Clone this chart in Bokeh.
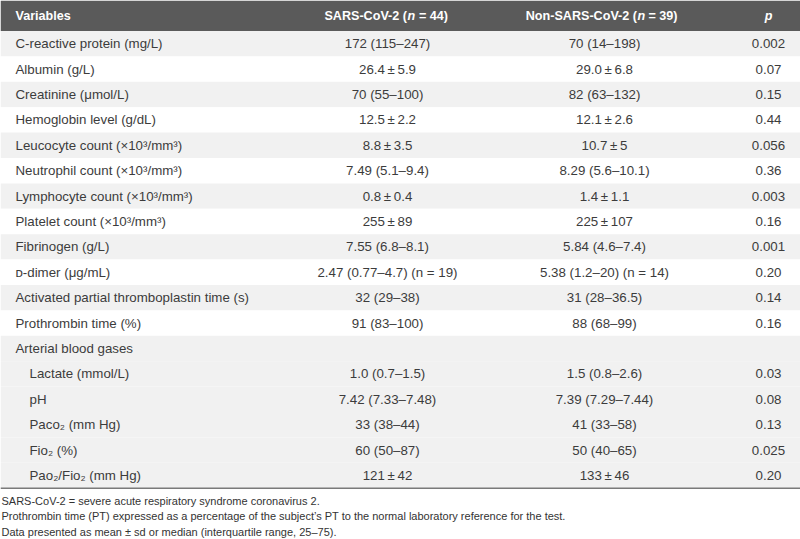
from bokeh.plotting import figure
from bokeh.models import ColumnDataSource, Range1d
from bokeh.core.properties import value
from bokeh.embed import file_html
from bokeh.resources import INLINE

variables = ["C-reactive protein (mg/L)", "Albumin (g/L)", "Creatinine (\u03bcmol/L)",
             "Hemoglobin level (g/dL)", "Leucocyte count (\u00d710\u00b3/mm\u00b3)",
             "Neutrophil count (\u00d710\u00b3/mm\u00b3)", "Lymphocyte count (\u00d710\u00b3/mm\u00b3)",
             "Platelet count (\u00d710\u00b3/mm\u00b3)", "Fibrinogen (g/L)", "\u1d05-dimer (\u03bcg/mL)",
             "Activated partial thromboplastin time (s)", "Prothrombin time (%)",
             "Arterial blood gases", "Lactate (mmol/L)", "pH", "Paco\u2082 (mm Hg)",
             "Fio\u2082 (%)", "Pao\u2082/Fio\u2082 (mm Hg)"]
indented = [0] * 13 + [1] * 5
sars = ["172 (115\u2013247)", "26.4\u2009\u00b1\u20095.9", "70 (55\u2013100)", "12.5\u2009\u00b1\u20092.2",
        "8.8\u2009\u00b1\u20093.5", "7.49 (5.1\u20139.4)", "0.8\u2009\u00b1\u20090.4", "255\u2009\u00b1\u200989",
        "7.55 (6.8\u20138.1)", "2.47 (0.77\u20134.7) (n = 19)", "32 (29\u201338)", "91 (83\u2013100)", "",
        "1.0 (0.7\u20131.5)", "7.42 (7.33\u20137.48)", "33 (38\u201344)", "60 (50\u201387)", "121\u2009\u00b1\u200942"]
non_sars = ["70 (14\u2013198)", "29.0\u2009\u00b1\u20096.8", "82 (63\u2013132)", "12.1\u2009\u00b1\u20092.6",
            "10.7\u2009\u00b1\u20095", "8.29 (5.6\u201310.1)", "1.4\u2009\u00b1\u20091.1", "225\u2009\u00b1\u2009107",
            "5.84 (4.6\u20137.4)", "5.38 (1.2\u201320) (n = 14)", "31 (28\u201336.5)", "88 (68\u201399)", "",
            "1.5 (0.8\u20132.6)", "7.39 (7.29\u20137.44)", "41 (33\u201358)", "50 (40\u201365)", "133\u2009\u00b1\u200946"]
p_values = ["0.002", "0.07", "0.15", "0.44", "0.056", "0.36", "0.003", "0.16", "0.001", "0.20",
            "0.14", "0.16", "", "0.03", "0.08", "0.13", "0.025", "0.20"]
shaded = [1, 0, 1, 0, 1, 0, 1, 0, 1, 0, 1, 0, 1, 1, 1, 1, 1, 1]
footnotes = ["SARS-CoV-2 = severe acute respiratory syndrome coronavirus 2.",
             "Prothrombin time (PT) expressed as a percentage of the subject\u2019s PT to the normal laboratory reference for the test.",
             "Data presented as mean \u00b1 sd or median (interquartile range, 25\u201375)."]

W, H = 800, 539
HEAD_H = 30.5
ROW_H = 25.4
X_VAR, X_IND, X_S, X_N, X_P = 15, 29, 387, 604, 768
FONT = "Liberation Sans"
FS = "13.3px"
TXT = "#3c3c3c"

p = figure(width=W, height=H, output_backend="svg", toolbar_location=None,
           x_range=Range1d(0, W), y_range=Range1d(H, 0), min_border=0,
           outline_line_color=None)
p.axis.visible = False
p.grid.visible = False
p.background_fill_color = "white"
p.border_fill_color = "white"

n = len(variables)
tops = [HEAD_H + i * ROW_H for i in range(n)]
bots = [t + ROW_H for t in tops]
mids = [t + ROW_H / 2 for t in tops]
fills = ["#f1f1f1" if s else "#ffffff" for s in shaded]
src = ColumnDataSource(dict(top=tops, bottom=bots, mid=mids, fill=fills,
                            var=variables, xv=[X_IND if k else X_VAR for k in indented],
                            s=sars, ns=non_sars, pv=p_values,
                            xs=[X_S] * n, xn=[X_N] * n, xp=[X_P] * n,
                            left=[0] * n, right=[W] * n))

# header band
p.quad(left=[0], right=[W], top=[0], bottom=[HEAD_H], fill_color="#5a5a5a", line_color=None)
# row bands
p.quad(left="left", right="right", top="top", bottom="bottom", fill_color="fill",
       line_color=None, source=src)
# bottom rule
p.segment(x0=[0], x1=[W], y0=[bots[-1]], y1=[bots[-1]], line_color="#7a7a7a", line_width=1.5)

common = dict(text_font=value(FONT), text_font_size=FS, text_color=TXT, text_baseline="middle")
p.text(x="xv", y="mid", text="var", text_align="left", source=src, **common)
p.text(x="xs", y="mid", text="s", text_align="center", source=src, **common)
p.text(x="xn", y="mid", text="ns", text_align="center", source=src, **common)
p.text(x="xp", y="mid", text="pv", text_align="center", source=src, **common)

# header text
hy = HEAD_H / 2
hdr = dict(text_font=value(FONT), text_font_size="12.6px", text_color="white",
           text_baseline="middle", text_font_style="bold")
ital = {**hdr, "text_font_style": "bold italic"}
p.text(x=[X_VAR], y=[hy], text=["Variables"], text_align="left", **hdr)
p.text(x=[406.5], y=[hy], text=["SARS-CoV-2 ("], text_align="right", **hdr)
p.text(x=[407], y=[hy], text=["n"], text_align="left", **ital)
p.text(x=[418.5], y=[hy], text=["= 44)"], text_align="left", **hdr)
p.text(x=[636.5], y=[hy], text=["Non-SARS-CoV-2 ("], text_align="right", **hdr)
p.text(x=[637], y=[hy], text=["n"], text_align="left", **ital)
p.text(x=[648], y=[hy], text=["= 39)"], text_align="left", **hdr)
p.text(x=[X_P], y=[hy], text=["p"], text_align="center", **ital)

# footnotes
fy = [bots[-1] + 12.5 + i * 15.5 for i in range(len(footnotes))]
p.text(x=[1] * len(footnotes), y=fy, text=footnotes, text_align="left",
       text_font=value(FONT), text_font_size="11px", text_color="#333333", text_baseline="middle")

open("out.html", "w").write(file_html(p, INLINE))
